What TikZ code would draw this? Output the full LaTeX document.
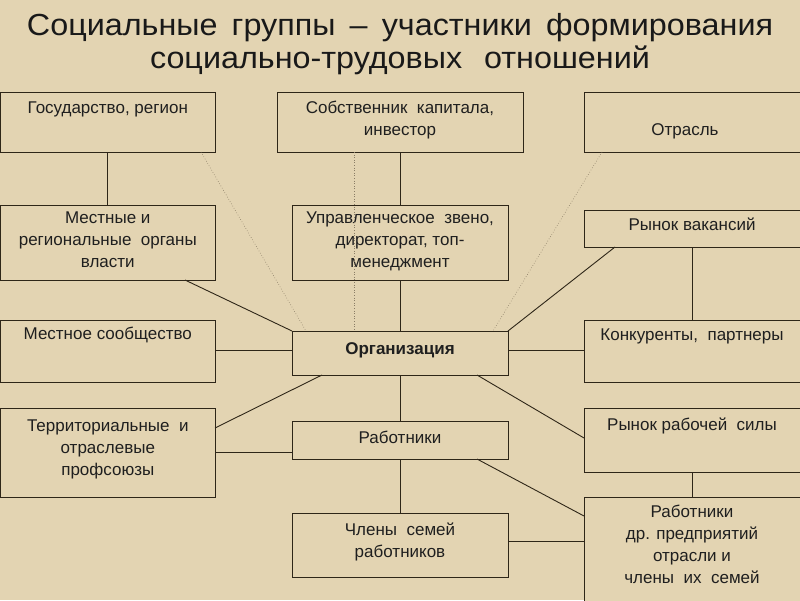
\documentclass[tikz,border=0pt]{standalone}
\usepackage{fontspec}
\setmainfont{Liberation Sans}
\newfontfamily\titlefont[FakeStretch=1.06]{Liberation Sans}
\usetikzlibrary{calc}
\definecolor{bg}{HTML}{E3D4B2}
\definecolor{ln}{HTML}{2E2618}
\definecolor{dt}{HTML}{8A7D66}
\newcommand\mybox[7]{%
  \node[box, minimum width={(#4-#2)*1pt}, minimum height={(#5-#3)*1pt}] (#1) at ({(#2+#4)/2},{(#3+#5)/2}) {};
  \node[txt] (#1t) at ($(#1.north)+(0,#6)$) {#7};}
\begin{document}
\begin{tikzpicture}[x=1pt,y=-1pt,
  box/.style={draw=ln, line width=1pt, fill=bg, inner sep=0pt, outer sep=0pt},
  txt/.style={anchor=north, inner sep=0pt, align=center, font=\fontsize{17}{22}\selectfont, text=black!88},
  ttl/.style={anchor=base, inner sep=0pt, font=\titlefont\fontsize{30.5}{34}\selectfont, text=black!90},
  conn/.style={draw=ln, line width=0.9pt},
  dots/.style={draw=dt, line width=0.6pt, dotted}]
\fill[bg] (0,0) rectangle (800,600);
\useasboundingbox (0,0) rectangle (800,600);
\clip (0,0) rectangle (800,600);
\node[ttl] (title1) at (400,35) {\makebox[746pt][s]{Социальные\ \ группы\ \ –\ \ участники\ \ формирования}};
\node[ttl] (title2) at (400,68) {\makebox[500pt][s]{социально-трудовых\ \ отношений}};
% row 1
\mybox{gos}{0.6}{92}{215}{152}{9.5}{Государство, регион}
\mybox{sob}{277}{92}{523}{152}{9}{Собственник\ \ капитала,\\инвестор}
\mybox{otr}{584}{92}{800}{152}{31}{\hspace*{-14pt}Отрасль}
% row 2
\mybox{mest}{0.6}{205}{215}{280}{7}{Местные и\\региональные\ \ органы\\власти}
\mybox{upr}{292}{205}{508}{280}{7}{Управленческое\ \ звено,\\директорат, топ-\\менеджмент}
\mybox{vak}{584}{210}{800}{247}{8}{Рынок вакансий}
% row 3
\mybox{msoob}{0.6}{320}{215}{382}{7}{Местное сообщество}
\mybox{org}{292}{331}{508}{375}{11}{\textbf{Организация}}
\mybox{kon}{584}{320}{800}{382}{9}{Конкуренты,\ \ партнеры}
% row 4
\mybox{ter}{0.6}{408}{215}{497}{12}{Территориальные\ \ и\\отраслевые\\профсоюзы}
\mybox{rab}{292}{421}{508}{459}{10}{Работники}
\mybox{rrs}{584}{408}{800}{472}{10}{Рынок рабочей\ \ силы}
% row 5
\mybox{chl}{292}{513}{508}{577}{10}{Члены\ \ семей\\работников}
\mybox{rdr}{584}{497}{800}{606}{8}{Работники\\др. предприятий\\отрасли и\\члены\ \ их\ \ семей}
% connectors
\draw[conn] (gos.south) -- (mest.north);
\draw[dots] ($(gos.south east)+(-14,0)$) -- ($(org.north west)+(14,0)$);
\draw[dots] ($(sob.south west)+(77,0)$) -- ($(org.north west)+(62,0)$);
\draw[conn] (sob.south) -- (upr.north);
\draw[conn] (upr.south) -- (org.north);
\draw[dots] ($(otr.south west)+(18,0)$) -- ($(org.north east)+(-15,0)$);
\draw[conn] ($(vak.south west)+(31,0)$) -- (org.north east);
\draw[conn] (vak.south) -- (kon.north);
\draw[conn] ($(mest.south east)+(-30,0)$) -- (org.north west);
\coordinate (om) at ($(org.west)+(0,-3)$);
\draw[conn] (om) -- (om -| msoob.east);
\coordinate (oe) at ($(org.east)+(0,-3)$);
\draw[conn] (oe) -- (oe -| kon.west);
\draw[conn] ($(org.south west)+(30,0)$) -- ($(ter.north east)+(0,20)$);
\draw[conn] ($(org.south east)+(-31,0)$) -- ($(rrs.north west)+(0,30)$);
\draw[conn] (org.south) -- (rab.north);
\coordinate (rw) at ($(rab.south west)+(0,-7)$);
\draw[conn] (rw) -- (rw -| ter.east);
\draw[conn] ($(rab.south east)+(-31,0)$) -- ($(rdr.north west)+(0,19)$);
\draw[conn] (rab.south) -- (chl.north);
\coordinate (ce) at ($(chl.east)+(0,-4)$);
\draw[conn] (ce) -- (ce -| rdr.west);
\draw[conn] (rrs.south) -- (rdr.north);
\end{tikzpicture}
\end{document}
